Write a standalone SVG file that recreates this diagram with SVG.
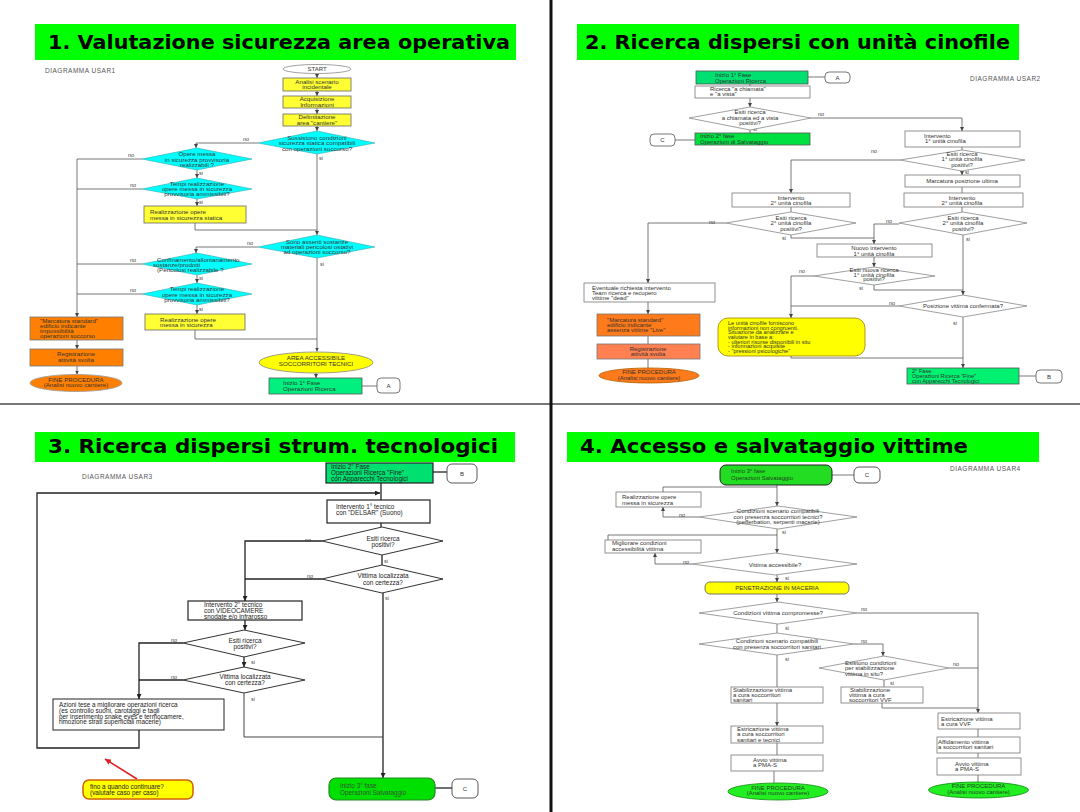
<svg xmlns="http://www.w3.org/2000/svg" width="1080" height="812" viewBox="0 0 1080 812">
<style>
.t{font-family:"Liberation Sans",Arial,sans-serif;font-size:6px;fill:#333}
.c{text-anchor:middle}
.p1{font-size:6.2px}
.p3{font-size:6.4px;fill:#222}
.lbl{font-family:"Liberation Sans",Arial,sans-serif;font-size:5.5px;fill:#444}
.dg{font-family:"Liberation Sans",Arial,sans-serif;font-size:6.5px;fill:#555;letter-spacing:0.5px}
.ttl{font-family:"DejaVu Sans",sans-serif;font-weight:bold;font-size:19px;fill:#000}
.l{fill:none;stroke:#555;stroke-width:0.8}
.lk{fill:none;stroke:#222;stroke-width:1.3}
.bw{fill:#fff;stroke:#777;stroke-width:0.8}
.bk{fill:#fff;stroke:#222;stroke-width:1.2}
.by{fill:#ffff33;stroke:#666;stroke-width:0.8}
.cy{fill:#00ffff;stroke:#33aaaa;stroke-width:0.6}
.or{fill:#ff8000;stroke:#777;stroke-width:0.8}
.dw{fill:#fff;stroke:#888;stroke-width:0.8}
.dk{fill:#fff;stroke:#333;stroke-width:1}
.cn{fill:#fff;stroke:#666;stroke-width:0.9}
.ban{fill:#00ff00}
</style>
<defs>
<marker id="ar" viewBox="0 0 6 6" refX="6" refY="3" markerWidth="4" markerHeight="4" orient="auto" markerUnits="userSpaceOnUse"><path d="M0,0 L6,3 L0,6 z" fill="#444"/></marker>
<marker id="ark" viewBox="0 0 6 6" refX="6" refY="3" markerWidth="5" markerHeight="5" orient="auto" markerUnits="userSpaceOnUse"><path d="M0,0 L6,3 L0,6 z" fill="#222"/></marker>
<marker id="arr" viewBox="0 0 6 6" refX="6" refY="3" markerWidth="6" markerHeight="6" orient="auto" markerUnits="userSpaceOnUse"><path d="M0,0 L6,3 L0,6 z" fill="#e02020"/></marker>
</defs>
<rect width="1080" height="812" fill="#fff"/>

<!-- dividers -->
<g id="dividers">
<line x1="0" y1="404" x2="1080" y2="404" stroke="#777" stroke-width="2"/>
<line x1="551" y1="0" x2="551" y2="812" stroke="#111" stroke-width="3"/>
</g>

<!-- titles -->
<g id="title1"><rect class="ban" x="35" y="24" width="481" height="36"/><text class="ttl" x="48" y="49" textLength="462" lengthAdjust="spacingAndGlyphs">1.  Valutazione sicurezza  area operativa</text></g>
<g id="title2"><rect class="ban" x="577" y="24" width="442" height="36"/><text class="ttl" x="585" y="49" textLength="425" lengthAdjust="spacingAndGlyphs">2. Ricerca dispersi con unità cinofile</text></g>
<g id="title3"><rect class="ban" x="35" y="432" width="480" height="30"/><text class="ttl" x="48" y="453" textLength="450" lengthAdjust="spacingAndGlyphs">3. Ricerca dispersi  strum. tecnologici</text></g>
<g id="title4"><rect class="ban" x="567" y="432" width="472" height="30"/><text class="ttl" x="580" y="453" textLength="388" lengthAdjust="spacingAndGlyphs">4. Accesso  e salvataggio vittime</text></g>

<!-- ================= PANEL 1 ================= -->
<text class="dg" x="45" y="73">DIAGRAMMA USAR1</text>
<g id="connectors1">
<path class="l" d="M317,73.5 V78" marker-end="url(#ar)"/>
<path class="l" d="M317,91 V96" marker-end="url(#ar)"/>
<path class="l" d="M317,108 V114" marker-end="url(#ar)"/>
<path class="l" d="M317,126 V131" marker-end="url(#ar)"/>
<path class="l" d="M258,143 H196 V148" marker-end="url(#ar)"/>
<path class="l" d="M317,154 V235" marker-end="url(#ar)"/>
<path class="l" d="M142,159 H77 V317" marker-end="url(#ar)"/>
<path class="l" d="M197,170 V178" marker-end="url(#ar)"/>
<path class="l" d="M142,189 H77"/>
<path class="l" d="M197,199 V206" marker-end="url(#ar)"/>
<path class="l" d="M195,223 V230 H317"/>
<path class="l" d="M258,247 H196 V253" marker-end="url(#ar)"/>
<path class="l" d="M317,258 V351.5" marker-end="url(#ar)"/>
<path class="l" d="M142,264 H77"/>
<path class="l" d="M197,275 V283" marker-end="url(#ar)"/>
<path class="l" d="M142,294 H77"/>
<path class="l" d="M197,305 V314" marker-end="url(#ar)"/>
<path class="l" d="M195,330 V339 H317"/>
<path class="l" d="M316,373 V378" marker-end="url(#ar)"/>
<path class="l" d="M362,386 H377"/>
<path class="l" d="M77,340 V349" marker-end="url(#ar)"/>
<path class="l" d="M77,366 V374.5" marker-end="url(#ar)"/>
<text class="lbl" x="243" y="141">no</text>
<text class="lbl" x="128" y="157">no</text>
<text class="lbl" x="130" y="187">no</text>
<text class="lbl" x="247" y="245">no</text>
<text class="lbl" x="130" y="262">no</text>
<text class="lbl" x="130" y="292">no</text>
<text class="lbl" x="319" y="160">si</text>
<text class="lbl" x="199" y="175">si</text>
<text class="lbl" x="199" y="204">si</text>
<text class="lbl" x="320" y="266">si</text>
<text class="lbl" x="199" y="280">si</text>
<text class="lbl" x="199" y="311">si</text>
</g>
<g id="p1-start"><ellipse cx="317" cy="69" rx="34" ry="4.5" fill="#fff" stroke="#888" stroke-width="0.8"/><text class="t c" x="317" y="71">START</text></g>
<g id="p1-analisi"><rect class="by" x="283" y="78" width="68" height="13"/><text class="t p1 c"><tspan x="317" y="83.5">Analisi scenario</tspan><tspan x="317" y="89">incidentale</tspan></text></g>
<g id="p1-acquisizione"><rect class="by" x="283" y="96" width="68" height="12"/><text class="t p1 c"><tspan x="317" y="101">Acquisizione</tspan><tspan x="317" y="106.5">Informazioni</tspan></text></g>
<g id="p1-delimitazione"><rect class="by" x="283" y="114" width="68" height="12"/><text class="t p1 c"><tspan x="317" y="119">Delimitazione</tspan><tspan x="317" y="124.5">area "cantiere"</tspan></text></g>
<g id="p1-d1"><polygon class="cy" points="258,143 317,131 375,143 317,154"/><text class="t p1 c"><tspan x="317" y="139.5">Sussistono condizioni</tspan><tspan x="317" y="145">sicurezza statica compatibili</tspan><tspan x="317" y="150.5">con operazioni soccorso?</tspan></text></g>
<g id="p1-d2"><polygon class="cy" points="142,159 197,148 252,159 197,170"/><text class="t p1 c"><tspan x="197" y="156">Opere messa</tspan><tspan x="197" y="161.5">in sicurezza provvisoria</tspan><tspan x="197" y="166.5">realizzabili ?</tspan></text></g>
<g id="p1-d3"><polygon class="cy" points="142,189 197,178 252,189 197,199"/><text class="t p1 c"><tspan x="197" y="185.5">Tempi realizzazione</tspan><tspan x="197" y="191">opere messa in sicurezza</tspan><tspan x="197" y="196">provvisoria ammissibili?</tspan></text></g>
<g id="p1-realizz1"><rect class="by" x="144" y="206" width="102" height="17"/><text class="t p1"><tspan x="150" y="214">Realizzazione opere</tspan><tspan x="150" y="219.5">messa in sicurezza statica</tspan></text></g>
<g id="p1-d4"><polygon class="cy" points="258,247 317,235 375,247 317,258"/><text class="t p1 c"><tspan x="317" y="244">Sono assenti sostanze</tspan><tspan x="317" y="249">materiali pericolosi ostativi</tspan><tspan x="317" y="254">ad operazioni soccorso?</tspan></text></g>
<g id="p1-d5"><polygon class="cy" points="142,264 197,253 252,264 197,275"/><text class="t p1"><tspan x="157" y="261.5">Confinamento/allontanamento</tspan><tspan x="153" y="266.5">sostanze/prodotti</tspan><tspan x="157" y="271.5">(Pericolosi realizzabile ?</tspan></text></g>
<g id="p1-d6"><polygon class="cy" points="142,294 197,283 252,294 197,305"/><text class="t p1 c"><tspan x="197" y="291">Tempi realizzazione</tspan><tspan x="197" y="296.5">opere messa in sicurezza</tspan><tspan x="197" y="302">provvisoria ammissibili?</tspan></text></g>
<g id="p1-realizz2"><rect class="by" x="145" y="314" width="100" height="16"/><text class="t p1"><tspan x="160" y="321.5">Realizzazione opere</tspan><tspan x="160" y="326.5">messa in sicurezza</tspan></text></g>
<g id="p1-area"><ellipse cx="316" cy="362.5" rx="57" ry="10.5" fill="#ffff00" stroke="#888" stroke-width="0.8"/><text class="t p1 c"><tspan x="316" y="360">AREA ACCESSIBILE</tspan><tspan x="316" y="365.5">SOCCORRITORI TECNICI</tspan></text></g>
<g id="p1-inizio1"><rect x="269" y="378" width="93" height="16" fill="#00f080" stroke="#555" stroke-width="0.8"/><text class="t p1"><tspan x="283" y="385">Inizio 1° Fase</tspan><tspan x="283" y="391">Operazioni Ricerca</tspan></text></g>
<g id="p1-A"><rect class="cn" x="377" y="378" width="23" height="15" rx="4"/><text class="t c" x="388.5" y="388">A</text></g>
<g id="p1-marcatura"><rect class="or" x="30" y="317" width="93" height="23"/><text class="t p1"><tspan x="40" y="322.5">"Marcatura standard"</tspan><tspan x="40" y="328">edificio indicante</tspan><tspan x="40" y="333">impossibilità</tspan><tspan x="40" y="338">operazioni soccorso</tspan></text></g>
<g id="p1-registrazione"><rect class="or" x="30" y="349" width="93" height="17"/><text class="t p1 c"><tspan x="76" y="356">Registrazione</tspan><tspan x="76" y="362">attività svolta</tspan></text></g>
<g id="p1-fine"><ellipse cx="76" cy="383" rx="46" ry="8.5" fill="#ff8000" stroke="#999" stroke-width="0.8"/><text class="t p1 c"><tspan x="76" y="381.5">FINE PROCEDURA</tspan><tspan x="76" y="386.8">(Analisi nuovo cantiere)</tspan></text></g>

<!-- ================= PANEL 2 ================= -->
<text class="dg" x="970" y="81">DIAGRAMMA USAR2</text>
<g id="connectors2">
<path class="l" d="M808,77 H825"/>
<path class="l" d="M750,84 V86"/>
<path class="l" d="M750,98 V107" marker-end="url(#ar)"/>
<path class="l" d="M811,118 H962 V131" marker-end="url(#ar)"/>
<path class="l" d="M750,130 V133"/>
<path class="l" d="M675,140 H695"/>
<path class="l" d="M962,147 V150"/>
<path class="l" d="M900,160 H791 V193" marker-end="url(#ar)"/>
<path class="l" d="M962,171 V175" marker-end="url(#ar)"/>
<path class="l" d="M962,187 V193"/>
<path class="l" d="M962,207 V212"/>
<path class="l" d="M791,207 V212"/>
<path class="l" d="M726,223 H648 V283" marker-end="url(#ar)"/>
<path class="l" d="M791,235 V238 H874"/>
<path class="l" d="M899,224 H874 V244" marker-end="url(#ar)"/>
<path class="l" d="M963,235 V295" marker-end="url(#ar)"/>
<path class="l" d="M874,257 V267" marker-end="url(#ar)"/>
<path class="l" d="M814,276 H791 V318" marker-end="url(#ar)"/>
<path class="l" d="M874,285 V290 H963"/>
<path class="l" d="M899,306 H791"/>
<path class="l" d="M963,317 V368" marker-end="url(#ar)"/>
<path class="l" d="M791,356 V358 H963"/>
<path class="l" d="M1019,376 H1036"/>
<path class="l" d="M648,302 V314" marker-end="url(#ar)"/>
<path class="l" d="M648,336 V344"/>
<path class="l" d="M648,359 V368"/>
<text class="lbl" x="818" y="116">no</text>
<text class="lbl" x="753" y="131">si</text>
<text class="lbl" x="871" y="153">no</text>
<text class="lbl" x="965" y="174">si</text>
<text class="lbl" x="709" y="224">no</text>
<text class="lbl" x="782" y="240">si</text>
<text class="lbl" x="886" y="223">no</text>
<text class="lbl" x="966" y="241">si</text>
<text class="lbl" x="799" y="273">no</text>
<text class="lbl" x="859" y="290">si</text>
<text class="lbl" x="889" y="305">no</text>
<text class="lbl" x="953" y="325">si</text>
</g>
<g id="p2-inizio1"><rect x="696" y="71" width="112" height="13" fill="#00e070" stroke="#555" stroke-width="0.8"/><text class="t"><tspan x="715" y="77">Inizio 1° Fase</tspan><tspan x="715" y="82.5">Operazioni Ricerca</tspan></text></g>
<g id="p2-A"><rect class="cn" x="825" y="72" width="25" height="11" rx="4"/><text class="t c" x="837.5" y="79.5">A</text></g>
<g id="p2-ricerca"><rect class="bw" x="695" y="86" width="115" height="12"/><text class="t"><tspan x="710" y="90.8">Ricerca "a chiamata"</tspan><tspan x="710" y="96.3">e "a vista"</tspan></text></g>
<g id="p2-d1"><polygon class="dw" points="689,118 750,107 811,118 750,130"/><text class="t c"><tspan x="750" y="113.8">Esiti ricerca</tspan><tspan x="750" y="119.5">a chiamata ed a vista</tspan><tspan x="750" y="124.8">positivi?</tspan></text></g>
<g id="p2-inizio2"><rect x="695" y="133" width="115" height="12" fill="#00e040" stroke="#555" stroke-width="0.8"/><text class="t"><tspan x="700" y="138">Inizio 2° fase</tspan><tspan x="700" y="143.5">Operazioni di Salvataggio</tspan></text></g>
<g id="p2-C"><rect class="cn" x="650" y="134" width="25" height="12" rx="4"/><text class="t c" x="662.5" y="142">C</text></g>
<g id="p2-int1"><rect class="bw" x="905" y="131" width="115" height="16"/><text class="t"><tspan x="924" y="137.5">Intervento</tspan><tspan x="925" y="143">1° unità cinofila</tspan></text></g>
<g id="p2-d2"><polygon class="dw" points="900,160 962,150 1025,160 962,171"/><text class="t c"><tspan x="962" y="156">Esiti ricerca</tspan><tspan x="962" y="161.3">1° unità cinofila</tspan><tspan x="962" y="166.5">positivi?</tspan></text></g>
<g id="p2-marcpos"><rect class="bw" x="905" y="175" width="115" height="12"/><text class="t c" x="962" y="183">Marcatura posizione ultima</text></g>
<g id="p2-int2r"><rect class="bw" x="904" y="193" width="119" height="14"/><text class="t c"><tspan x="962" y="199.5">Intervento</tspan><tspan x="962" y="205">2° unità cinofila</tspan></text></g>
<g id="p2-int2l"><rect class="bw" x="732" y="193" width="118" height="14"/><text class="t c"><tspan x="791" y="199.5">Intervento</tspan><tspan x="791" y="205">2° unità cinofila</tspan></text></g>
<g id="p2-d3"><polygon class="dw" points="726,223 791,212 856,223 791,235"/><text class="t c"><tspan x="791" y="220">Esiti ricerca</tspan><tspan x="791" y="225.3">2° unità cinofila</tspan><tspan x="791" y="230.5">positivi?</tspan></text></g>
<g id="p2-d4"><polygon class="dw" points="899,223 963,212 1027,223 963,235"/><text class="t c"><tspan x="963" y="220">Esiti ricerca</tspan><tspan x="963" y="225.3">2° unità cinofila</tspan><tspan x="963" y="230.5">positivi?</tspan></text></g>
<g id="p2-nuovo"><rect class="bw" x="817" y="244" width="115" height="13"/><text class="t c"><tspan x="874" y="250">Nuovo intervento</tspan><tspan x="874" y="255.5">1° unità cinofila</tspan></text></g>
<g id="p2-d5"><polygon class="dw" points="814,276 874,267 935,276 874,285"/><text class="t c"><tspan x="874" y="271.5">Esiti nuova ricerca</tspan><tspan x="874" y="276.5">1° unità cinofila</tspan><tspan x="874" y="281.3">positivi?</tspan></text></g>
<g id="p2-eventuale"><rect class="bw" x="584" y="283" width="131" height="19"/><text class="t"><tspan x="592" y="289.5">Eventuale richiesta intervento</tspan><tspan x="592" y="295">Team ricerca e recupero</tspan><tspan x="592" y="300.3">vittime "dead"</tspan></text></g>
<g id="p2-d6"><polygon class="dw" points="899,306 963,295 1027,306 963,317"/><text class="t c" x="963" y="308.3">Posizione vittima confermata?</text></g>
<g id="p2-nota"><rect x="718" y="318" width="147" height="38" rx="10" fill="#ffff00" stroke="#a08000" stroke-width="0.8"/><text class="t" style="font-size:5.6px"><tspan x="728" y="324.7">Le unità cinofile forniscono</tspan><tspan x="728" y="329.6">informazioni non congruenti.</tspan><tspan x="728" y="334.3">Situazione da analizzare e</tspan><tspan x="728" y="339.1">valutare in base a:</tspan><tspan x="728" y="343.8">- ulteriori risorse disponibili in situ</tspan><tspan x="728" y="348.4">- informazioni acquisite</tspan><tspan x="728" y="353">- "pressioni psicologiche"</tspan></text></g>
<g id="p2-fase2"><rect x="907" y="368" width="112" height="16" fill="#00f070" stroke="#555" stroke-width="0.8"/><text class="t" style="font-size:5.6px"><tspan x="912" y="373">2° Fase</tspan><tspan x="912" y="378">Operazioni Ricerca "Fine"</tspan><tspan x="912" y="383">con Apparecchi Tecnologici</tspan></text></g>
<g id="p2-B"><rect class="cn" x="1036" y="370" width="26" height="13" rx="4"/><text class="t c" x="1049" y="379">B</text></g>
<g id="p2-marcatura"><rect x="597" y="314" width="103" height="22" fill="#ff7a1a" stroke="#777" stroke-width="0.8"/><text class="t"><tspan x="607" y="321.5">"Marcatura standard"</tspan><tspan x="607" y="327">edificio indicante</tspan><tspan x="607" y="332">assenza vittime "Live"</tspan></text></g>
<g id="p2-registrazione"><rect x="597" y="344" width="103" height="15" fill="#ff8050" stroke="#777" stroke-width="0.8"/><text class="t c"><tspan x="648" y="350.5">Registrazione</tspan><tspan x="648" y="355.8">attività svolta</tspan></text></g>
<g id="p2-fine"><ellipse cx="649" cy="375.5" rx="50" ry="7.5" fill="#ff7a1a" stroke="#b06000" stroke-width="0.8"/><text class="t c"><tspan x="649" y="374.3">FINE PROCEDURA</tspan><tspan x="649" y="379.5">(Analisi nuovo cantiere)</tspan></text></g>

<!-- ================= PANEL 3 ================= -->
<text class="dg" x="82" y="479">DIAGRAMMA USAR3</text>
<g id="connectors3">
<path class="lk" d="M433,472 H447"/>
<path class="lk" d="M381,483 V500"/>
<path class="lk" d="M139,730 V748 H37 V493 H380" marker-end="url(#ark)"/>
<path class="lk" d="M381,523 V527"/>
<path class="lk" d="M322,541 H245 V601" marker-end="url(#ark)"/>
<path class="lk" d="M382,555 V565"/>
<path class="lk" d="M322,579 H245"/>
<path class="lk" d="M383,593 V778" marker-end="url(#ark)"/>
<path class="lk" d="M245,620 V630" marker-end="url(#ark)"/>
<path class="lk" d="M183,643 H139 V699" marker-end="url(#ark)"/>
<path class="lk" d="M244,657 V667" marker-end="url(#ark)"/>
<path class="lk" d="M183,680 H139"/>
<path class="l" d="M244,693 V737 H383" style="stroke:#444;stroke-width:1"/>
<path class="lk" d="M435,788 H452"/>
<path d="M137,779 L105,759" fill="none" stroke="#e02020" stroke-width="1.5" marker-end="url(#arr)"/>
<text class="lbl" x="305" y="542">no</text>
<text class="lbl" x="384" y="563">si</text>
<text class="lbl" x="307" y="578">no</text>
<text class="lbl" x="385" y="600">si</text>
<text class="lbl" x="171" y="642">no</text>
<text class="lbl" x="251" y="664">si</text>
<text class="lbl" x="171" y="679">no</text>
<text class="lbl" x="251" y="701">si</text>
</g>
<g id="p3-inizio2"><rect x="326" y="463" width="107" height="20" fill="#00e070" stroke="#222" stroke-width="1.2"/><text class="t p3"><tspan x="331" y="468.7">Inizio 2° Fase</tspan><tspan x="331" y="475.3">Operazioni Ricerca "Fine"</tspan><tspan x="331" y="481.3">con Apparecchi Tecnologici</tspan></text></g>
<g id="p3-B"><rect class="cn" x="447" y="464" width="30" height="19" rx="5" style="stroke:#444"/><text class="t c" x="462" y="476">B</text></g>
<g id="p3-delsar"><rect class="bk" x="327" y="500" width="103" height="23"/><text class="t p3"><tspan x="336" y="509">Intervento 1° tecnico</tspan><tspan x="336" y="515">con "DELSAR" (Suono)</tspan></text></g>
<g id="p3-d1"><polygon class="dk" points="322,541 382,527 443,541 382,555"/><text class="t p3 c"><tspan x="383" y="540.5">Esiti ricerca</tspan><tspan x="383" y="546.8">positivi?</tspan></text></g>
<g id="p3-d2"><polygon class="dk" points="322,579 382,565 443,579 382,593"/><text class="t p3 c"><tspan x="383" y="578">Vittima localizzata</tspan><tspan x="383" y="584.5">con certezza?</tspan></text></g>
<g id="p3-video"><rect class="bk" x="188" y="601" width="114" height="19"/><text class="t p3"><tspan x="204" y="606.5">Intervento 2° tecnico</tspan><tspan x="204" y="612.7">con VIDEOCAMERE</tspan><tspan x="204" y="619">snodate e/o infrarosso</tspan></text></g>
<g id="p3-d3"><polygon class="dk" points="183,643 244,630 305,643 244,657"/><text class="t p3 c"><tspan x="245" y="642.5">Esiti ricerca</tspan><tspan x="245" y="648.7">positivi?</tspan></text></g>
<g id="p3-d4"><polygon class="dk" points="183,680 244,667 305,680 244,693"/><text class="t p3 c"><tspan x="245" y="678.5">Vittima localizzata</tspan><tspan x="245" y="684.8">con certezza?</tspan></text></g>
<g id="p3-azioni"><rect class="bk" x="53" y="699" width="171" height="31" style="stroke-width:1"/><text class="t p3"><tspan x="59" y="707">Azioni tese a migliorare operazioni ricerca</tspan><tspan x="59" y="712.7">(es controllo suoni, carotaggi e tagli</tspan><tspan x="59" y="718.5">per inserimento snake eyes e termocamere,</tspan><tspan x="59" y="724.2">rimozione strati superficiali macerie)</tspan></text></g>
<g id="p3-nota"><rect x="83" y="780" width="110" height="19" rx="6" fill="#ffff00" stroke="#d06000" stroke-width="1.5"/><text class="t p3"><tspan x="90" y="788.8">fino a quando continuare?</tspan><tspan x="90" y="795">(valutare caso per caso)</tspan></text></g>
<g id="p3-inizio3"><rect x="329" y="778" width="106" height="22" rx="7" fill="#00e000" stroke="#228822" stroke-width="1.2"/><text class="t p3" style="fill:#335533"><tspan x="340" y="788">Inizio 3° fase</tspan><tspan x="340" y="794.5">Operazioni Salvataggio</tspan></text></g>
<g id="p3-C"><rect class="cn" x="452" y="779" width="26" height="19" rx="5" style="stroke:#444"/><text class="t c" x="465" y="791">C</text></g>

<!-- ================= PANEL 4 ================= -->
<text class="dg" x="950" y="471">DIAGRAMMA USAR4</text>
<g id="connectors4">
<path class="l" d="M832,475 H854"/>
<path class="l" d="M777,485 V506" marker-end="url(#ar)"/>
<path class="l" d="M663,492 V487 H777"/>
<path class="l" d="M699,517 H663 V507" marker-end="url(#ar)"/>
<path class="l" d="M777,529 V553" marker-end="url(#ar)"/>
<path class="l" d="M777,535 H608 V540"/>
<path class="l" d="M692,564 H655 V553" marker-end="url(#ar)"/>
<path class="l" d="M777,575 V582" marker-end="url(#ar)"/>
<path class="l" d="M777,594 V602" marker-end="url(#ar)"/>
<path class="l" d="M857,613 H978 V713" marker-end="url(#ar)"/>
<path class="l" d="M777,624 V633"/>
<path class="l" d="M854,644 H883 V656" marker-end="url(#ar)"/>
<path class="l" d="M777,655 V687"/>
<path class="l" d="M949,668 H978"/>
<path class="l" d="M884,680 V687"/>
<path class="l" d="M882,703 V708 H978"/>
<path class="l" d="M777,703 V726" marker-end="url(#ar)"/>
<path class="l" d="M777,743 V755"/>
<path class="l" d="M774,771 V783"/>
<path class="l" d="M978,729 V737"/>
<path class="l" d="M978,753 V758"/>
<path class="l" d="M978,775 V782"/>
<text class="lbl" x="679" y="517">no</text>
<text class="lbl" x="782" y="534">si</text>
<text class="lbl" x="683" y="564">no</text>
<text class="lbl" x="785" y="580">si</text>
<text class="lbl" x="861" y="611">no</text>
<text class="lbl" x="785" y="630">si</text>
<text class="lbl" x="861" y="643">no</text>
<text class="lbl" x="785" y="661">si</text>
<text class="lbl" x="953" y="666">no</text>
<text class="lbl" x="890" y="685">si</text>
</g>
<g id="p4-inizio3"><rect x="720" y="465" width="112" height="20" rx="6" fill="#22dd22" stroke="#222" stroke-width="1"/><text class="t" style="fill:#224422"><tspan x="731" y="473">Inizio 3° fase</tspan><tspan x="731" y="479.5">Operazioni Salvataggio</tspan></text></g>
<g id="p4-C"><rect class="cn" x="854" y="467" width="26" height="16" rx="5" style="stroke:#444"/><text class="t c" x="867" y="477">C</text></g>
<g id="p4-realizz"><rect class="bw" x="616" y="492" width="85" height="15"/><text class="t"><tspan x="622" y="499">Realizzazione opere</tspan><tspan x="622" y="504.7">messa in sicurezza</tspan></text></g>
<g id="p4-d1"><polygon class="dw" points="699,517 778,506 857,517 778,529"/><text class="t c"><tspan x="778" y="513">Condizioni scenario compatibili</tspan><tspan x="778" y="518.7">con presenza soccorritori tecnici?</tspan><tspan x="778" y="524.3">(pefferbation, serpenti macerie)</tspan></text></g>
<g id="p4-migliorare"><rect class="bw" x="605" y="540" width="96" height="13"/><text class="t"><tspan x="612" y="545">Migliorare condizioni</tspan><tspan x="612" y="551">accessibilità vittima</tspan></text></g>
<g id="p4-d2"><polygon class="dw" points="692,564 775,553 857,564 775,575"/><text class="t c" x="775" y="566.5">Vittima accessibile?</text></g>
<g id="p4-penetrazione"><rect x="705" y="582" width="144" height="12" rx="5" fill="#ffff00" stroke="#555" stroke-width="0.8"/><text class="t c" x="777" y="590.3">PENETRAZIONE IN MACERIA</text></g>
<g id="p4-d3"><polygon class="dw" points="699,613 778,602 857,613 778,624"/><text class="t c" x="778" y="615.3">Condizioni vittima compromesse?</text></g>
<g id="p4-d4"><polygon class="dw" points="699,644 777,633 854,644 777,655"/><text class="t c"><tspan x="777" y="643">Condizioni scenario compatibili</tspan><tspan x="777" y="648.7">con presenza soccorritori sanitari</tspan></text></g>
<g id="p4-d5"><polygon class="dw" points="819,668 884,656 949,668 884,680"/><text class="t"><tspan x="845" y="664.5">Esistono condizioni</tspan><tspan x="845" y="670.3">per stabilizzazione</tspan><tspan x="845" y="676">vittima in situ?</tspan></text></g>
<g id="p4-stabs"><rect class="bw" x="731" y="687" width="92" height="16"/><text class="t"><tspan x="733" y="691.5">Stabilizzazione vittima</tspan><tspan x="733" y="696.8">a cura soccorritori</tspan><tspan x="733" y="702">sanitari</tspan></text></g>
<g id="p4-stabv"><rect class="bw" x="841" y="687" width="82" height="16"/><text class="t"><tspan x="850" y="691.5">Stabilizzazione</tspan><tspan x="849" y="696.8">vittima a cura</tspan><tspan x="849" y="702">soccorritori VVF</tspan></text></g>
<g id="p4-estrs"><rect class="bw" x="731" y="726" width="92" height="17"/><text class="t"><tspan x="737" y="731">Estricazione vittima</tspan><tspan x="737" y="736.3">a cura soccorritori</tspan><tspan x="737" y="741.5">sanitari e tecnici</tspan></text></g>
<g id="p4-avvios"><rect class="bw" x="731" y="755" width="92" height="16"/><text class="t"><tspan x="753" y="762">Avvio vittima</tspan><tspan x="753" y="767.3">a PMA-S</tspan></text></g>
<g id="p4-fines"><ellipse cx="778" cy="791.5" rx="50" ry="8.5" fill="#22ee22" stroke="#118811" stroke-width="0.8"/><text class="t c" style="fill:#224422"><tspan x="778" y="789.7">FINE PROCEDURA</tspan><tspan x="778" y="795.3">(Analisi nuovo cantiere)</tspan></text></g>
<g id="p4-estrv"><rect class="bw" x="938" y="713" width="82" height="16"/><text class="t"><tspan x="941" y="720.5">Estricazione vittima</tspan><tspan x="941" y="726.3">a cura VVF</tspan></text></g>
<g id="p4-affid"><rect class="bw" x="937" y="737" width="83" height="16"/><text class="t"><tspan x="938" y="743.5">Affidamento vittima</tspan><tspan x="938" y="749.3">a soccorritori sanitari</tspan></text></g>
<g id="p4-avviov"><rect class="bw" x="937" y="758" width="84" height="17"/><text class="t"><tspan x="955" y="765.5">Avvio vittima</tspan><tspan x="955" y="771.3">a PMA-S</tspan></text></g>
<g id="p4-finev"><ellipse cx="978.5" cy="790" rx="50" ry="8" fill="#22ee22" stroke="#118811" stroke-width="0.8"/><text class="t c" style="fill:#224422"><tspan x="978.5" y="788.3">FINE PROCEDURA</tspan><tspan x="978.5" y="793.8">(Analisi nuovo cantiere)</tspan></text></g>
</svg>
